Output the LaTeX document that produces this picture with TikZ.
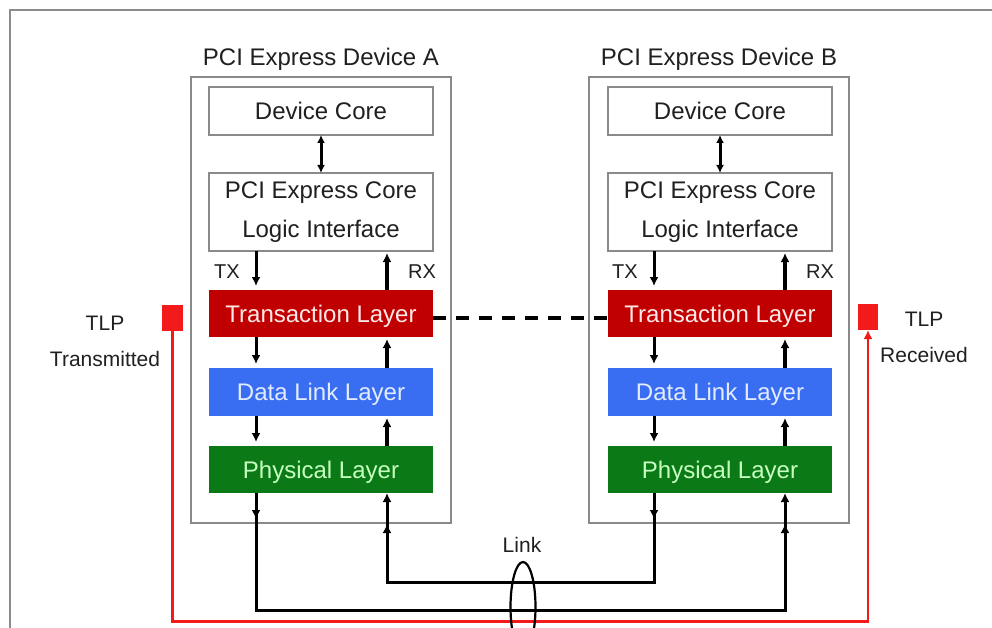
\documentclass[tikz,border=0pt]{standalone}
\usepackage{fontspec}
\setmainfont{Liberation Sans}
\usetikzlibrary{arrows.meta,calc,decorations.markings}

\definecolor{framegray}{HTML}{8C8C8C}
\definecolor{boxgray}{HTML}{8A8A8A}
\definecolor{tlred}{HTML}{C00000}
\definecolor{tltext}{HTML}{FFE8E8}
\definecolor{dlblue}{HTML}{3A6EF2}
\definecolor{dltext}{HTML}{E2EBFF}
\definecolor{phgreen}{HTML}{0B7A16}
\definecolor{phtext}{HTML}{C6FFC0}
\definecolor{tlpred}{HTML}{F21A1A}
\definecolor{textgray}{HTML}{202020}

\begin{document}
\begin{tikzpicture}[x=1pt,y=-1pt,
  every node/.style={inner sep=0pt, outer sep=0pt, text=textgray},
  head/.style={Latex[length=9pt,width=9pt]},
  tip/.style={-{Latex[length=9pt,width=9pt]}},
  devbox/.style={draw=boxgray, line width=1.6pt, minimum width=260pt, minimum height=446pt},
  title/.style={font=\fontsize{24}{28}\selectfont},
  plainbox/.style={draw=boxgray, line width=1.6pt, fill=white, minimum width=224pt,
    font=\fontsize{24}{39}\selectfont, align=center},
  layerbox/.style={minimum width=224pt, font=\fontsize{24}{28}\selectfont,
    text height=17pt, text depth=0pt},
  tlbox/.style={layerbox, fill=tlred, text=tltext, minimum height=47pt},
  dlbox/.style={layerbox, fill=dlblue, text=dltext, minimum height=48pt},
  phbox/.style={layerbox, fill=phgreen, text=phtext, minimum height=47pt},
  dirlbl/.style={font=\fontsize{20}{24}\selectfont},
  sidelbl/.style={font=\fontsize{21}{36}\selectfont, align=center},
  tlpsq/.style={fill=tlpred, minimum width=21pt, minimum height=26pt},
  txarr/.style={line width=3pt, tip, shorten >=4pt},
  rxarr/.style={line width=3.6pt, tip, shorten >=2pt},
  dblarr/.style={line width=3pt, {Latex[length=8pt,width=8pt]}-{Latex[length=8pt,width=8pt]}},
  wire/.style={line width=3pt, tip, postaction=decorate},
  mkstart/.style={decoration={markings,
      mark=at position 26pt with {\arrow{Latex[length=9pt,width=9pt]}},
      mark=at position -31pt with {\arrow{Latex[length=9pt,width=9pt]}}}},
]
\useasboundingbox (0,0) rectangle (992,628);
\clip (0,0) rectangle (992,628);
\fill[white] (0,0) rectangle (992,628);

% outer frame (top and left edges)
\draw[framegray, line width=2.6pt] (10,660) -- (10,10) -- (1010,10);

% ---------------- Device A ----------------
\node[devbox] (devA) at (321,300) {};
\node[title] (titleA) at (321,59) {PCI Express Device A};
\node[plainbox, minimum height=48pt] (coreA) at (321,111) {Device Core};
\node[plainbox, minimum height=78pt] (lifA) at (321,212) {PCI Express Core\\Logic Interface};
\node[tlbox] (tlA) at (321,313.5) {Transaction Layer};
\node[dlbox] (dlA) at (321,392) {Data Link Layer};
\node[phbox] (phA) at (321,469.5) {Physical Layer};
\node[dirlbl] (txA) at (227,272) {TX};
\node[dirlbl] (rxA) at (422,272) {RX};

% ---------------- Device B ----------------
\node[devbox] (devB) at (719,300) {};
\node[title] (titleB) at (719,59) {PCI Express Device B};
\node[plainbox, minimum height=48pt] (coreB) at (720,111) {Device Core};
\node[plainbox, minimum height=78pt] (lifB) at (720,212) {PCI Express Core\\Logic Interface};
\node[tlbox] (tlB) at (720,313.5) {Transaction Layer};
\node[dlbox] (dlB) at (720,392) {Data Link Layer};
\node[phbox] (phB) at (720,469.5) {Physical Layer};
\node[dirlbl] (txB) at (625,272) {TX};
\node[dirlbl] (rxB) at (820,272) {RX};

% ---------------- internal arrows ----------------
\foreach \d/\dx in {A/0,B/-1} {
  \draw[dblarr] (core\d.south) -- (lif\d.north);
  % transmit path (down)
  \draw[txarr] ($(lif\d.south)+(-65+\dx,0)$) -- ($(tl\d.north)+(-65+\dx,0)$);
  \draw[txarr] ($(tl\d.south)+(-65+\dx,0)$) -- ($(dl\d.north)+(-65+\dx,0)$);
  \draw[txarr] ($(dl\d.south)+(-65+\dx,0)$) -- ($(ph\d.north)+(-65+\dx,0)$);
  % receive path (up)
  \draw[rxarr] ($(tl\d.north)+(66+\dx,0)$) -- ($(lif\d.south)+(66+\dx,0)$);
  \draw[rxarr] ($(dl\d.north)+(66+\dx,0)$) -- ($(tl\d.south)+(66+\dx,0)$);
  \draw[rxarr] ($(ph\d.north)+(66+\dx,0)$) -- ($(dl\d.south)+(66+\dx,0)$);
}

% peer-to-peer transaction layer relation
\draw[line width=3.2pt, dash pattern=on 13pt off 10pt]
  ($(tlA.east)+(0,4.5)$) -- ($(tlB.west)+(0,4.5)$);

% ---------------- link wires ----------------
\coordinate (aTX) at ($(phA.south)+(-65,0)$);
\coordinate (aRX) at ($(phA.south)+(66,0)$);
\coordinate (bTX) at ($(phB.south)+(-66,0)$);
\coordinate (bRX) at ($(phB.south)+(65,0)$);

\draw[wire, mkstart] (bTX) -- ++(0,89) -| (aRX);
\draw[wire, mkstart] (aTX) -- ++(0,117) -| (bRX);

% ---------------- TLP markers ----------------
\node[tlpsq] (sqA) at (172.5,317.5) {};
\node[tlpsq, minimum width=20pt] (sqB) at (868,317) {};
\draw[tlpred, line width=2.4pt, tip] (sqA.south) -- ++(0,291) -| (sqB.south);

\node[sidelbl] (tlpA) at (105,341) {TLP\\Transmitted};
\node[sidelbl] (tlpB) at (924,337) {TLP\\Received};

% ---------------- link bundle ----------------
\node[font=\fontsize{21}{24}\selectfont] (linklbl) at (522,545) {Link};
\draw[line width=2.2pt] (523,607) ellipse [x radius=12.5pt, y radius=45pt];

\end{tikzpicture}
\end{document}
